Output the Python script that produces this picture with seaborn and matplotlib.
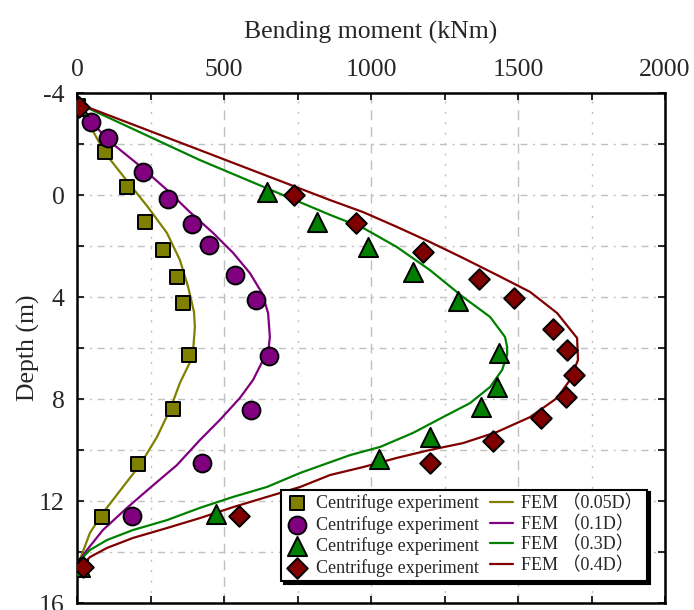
import numpy as np
import pandas as pd
import matplotlib
matplotlib.use("Agg")
import matplotlib.pyplot as plt
from matplotlib.ticker import MultipleLocator
import seaborn as sns

# ---------------- data ----------------
# Centrifuge experiment (markers): bending moment (kNm), depth (m)
exp_005_M = [5, 95, 170, 231, 293, 340, 361, 381, 326, 208, 84, 15]
exp_005_d = [-3.5, -1.69, -0.31, 1.06, 2.16, 3.2, 4.24, 6.27, 8.39, 10.55, 12.63, 14.6]

exp_01_M = [48, 105, 224, 310, 391, 449, 537, 609, 653, 592, 425, 187]
exp_01_d = [-2.86, -2.24, -0.9, 0.16, 1.14, 1.96, 3.14, 4.12, 6.31, 8.43, 10.5, 12.6]

exp_03_M = [5, 646, 816, 990, 1143, 1296, 1435, 1429, 1374, 1200, 1027, 473, 10]
exp_03_d = [-3.5, -0.1, 1.06, 2.04, 3.02, 4.16, 6.2, 7.53, 8.3, 9.5, 10.35, 12.5, 14.6]

exp_04_M = [8, 739, 949, 1177, 1367, 1486, 1619, 1667, 1690, 1663, 1578, 1415, 1200, 552, 20]
exp_04_d = [-3.45, 0.0, 1.1, 2.24, 3.3, 4.04, 5.26, 6.08, 7.06, 7.92, 8.75, 9.65, 10.5, 12.6, 14.6]

# FEM curves
fem_005_M = [5, 95, 173, 241, 306, 350, 378, 398, 401, 395, 388, 350, 316, 272, 214, 156, 88, 44, 10, 15]
fem_005_d = [-3.55, -1.65, -0.51, 0.47, 1.49, 2.55, 3.61, 4.59, 5.18, 6.08, 6.47, 7.37, 8.43, 9.49,
             10.59, 11.45, 12.47, 13.25, 14.3, 14.6]

fem_01_M = [5, 14, 105, 214, 306, 384, 463, 531, 588, 629, 650, 656, 650, 633, 599, 554, 486, 418,
            340, 248, 170, 88, 34, 10, 15]
fem_01_d = [-3.55, -3.33, -2.16, -1.14, -0.2, 0.67, 1.49, 2.27, 3.06, 3.84, 4.63, 5.57, 6.2, 6.47,
            7.25, 7.96, 8.82, 9.61, 10.59, 11.49, 12.27, 13.14, 13.92, 14.3, 14.6]

fem_03_M = [7, 418, 861, 973, 1088, 1200, 1313, 1405, 1456, 1463, 1463, 1446, 1405, 1337, 1245, 1143,
            1031, 929, 759, 646, 531, 418, 306, 190, 102, 44, 17, 10]
fem_03_d = [-3.57, -1.37, 0.78, 1.29, 2.04, 2.94, 4.0, 4.78, 5.57, 5.96, 6.27, 6.86, 7.53, 8.16, 8.71,
            9.33, 9.88, 10.2, 10.9, 11.45, 11.84, 12.27, 12.75, 13.14, 13.53, 13.92, 14.24, 14.6]

fem_04_M = [7, 418, 861, 973, 1088, 1200, 1313, 1429, 1541, 1633, 1701, 1704, 1677, 1633, 1541, 1429,
            1313, 1200, 1088, 973, 861, 759, 646, 531, 418, 306, 190, 102, 44, 10]
fem_04_d = [-3.57, -1.76, 0.2, 0.67, 1.25, 1.84, 2.47, 3.14, 3.8, 4.63, 5.61, 6.47, 7.25, 7.96, 8.71,
            9.29, 9.73, 10.0, 10.31, 10.67, 10.98, 11.45, 11.84, 12.24, 12.67, 13.06, 13.45, 13.84,
            14.2, 14.6]

exp_label = "Centrifuge experiment"
fem_labels = ["FEM \uff080.05D\uff09", "FEM \uff080.1D\uff09", "FEM \uff080.3D\uff09", "FEM \uff080.4D\uff09"]
x_label = "Bending moment (kNm)"
y_label = "Depth (m)"
x_ticks = [0, 500, 1000, 1500, 2000]
y_ticks = [-4, 0, 4, 8, 12, 16]

# ---------------- style ----------------
sns.set_style("white")
plt.rcParams["font.family"] = ["Liberation Serif", "Noto Sans CJK SC", "DejaVu Sans"]
plt.rcParams["axes.unicode_minus"] = False

colors = ["#808000", "#800080", "#008000", "#800000"]
markers = ["s", "o", "^", "D"]
sizes = [115, 165, 190, 110]

fig = plt.figure(figsize=(6.94, 6.10), dpi=100)
ax = fig.add_axes([77 / 694, 1 - 603 / 610, 588 / 694, 510 / 610])

fems = [(fem_005_M, fem_005_d), (fem_01_M, fem_01_d), (fem_03_M, fem_03_d), (fem_04_M, fem_04_d)]
exps = [(exp_005_M, exp_005_d), (exp_01_M, exp_01_d), (exp_03_M, exp_03_d), (exp_04_M, exp_04_d)]

for (M, d), c, lab in zip(fems, colors, fem_labels):
    df = pd.DataFrame({"M": M, "d": d})
    sns.lineplot(data=df, x="M", y="d", sort=False, estimator=None, color=c, lw=1.6,
                 label=lab, ax=ax, zorder=3)

for (M, d), c, mk, s in zip(exps, colors, markers, sizes):
    df = pd.DataFrame({"M": M, "d": d})
    sns.scatterplot(data=df, x="M", y="d", marker=mk, s=s, color=c, edgecolor="black",
                    linewidth=1.4, label=exp_label, ax=ax, zorder=4)

ax.set_xlim(0, 2000)
ax.set_ylim(16, -4)
ax.xaxis.tick_top()
ax.xaxis.set_label_position("top")
ax.set_xticks(x_ticks)
ax.set_yticks(y_ticks)
ax.xaxis.set_minor_locator(MultipleLocator(250))
ax.yaxis.set_minor_locator(MultipleLocator(2))

ax.set_xlabel(x_label, fontsize=18.5, labelpad=14)
ax.set_ylabel(y_label, fontsize=18.5, labelpad=-1)
ax.tick_params(axis="both", which="both", direction="in", top=True, bottom=True,
               left=True, right=True, width=1.4, length=5, labelsize=18.5, pad=9)
ax.tick_params(axis="x", which="both", labeltop=True, labelbottom=False)

for sp in ax.spines.values():
    sp.set_linewidth(1.8)
    sp.set_color("black")

ax.grid(False)
ax.grid(True, axis="x", which="major", color="#c0c0c0", lw=1.0, linestyle=(0, (7, 5)))
ax.grid(True, axis="x", which="minor", color="#c0c0c0", lw=1.0, linestyle=(0, (1.5, 6)))
ax.grid(True, axis="y", which="both", color="#c0c0c0", lw=1.0, linestyle=(0, (5, 4, 1.5, 4)))
ax.set_axisbelow(True)

handles, labels = ax.get_legend_handles_labels()
order = [4, 5, 6, 7, 0, 1, 2, 3]
leg = ax.legend([handles[i] for i in order], [labels[i] for i in order], ncol=2,
                loc="lower right", bbox_to_anchor=(0.969, 0.043), fontsize=13,
                frameon=True, fancybox=False, shadow={"color": "black", "alpha": 1},
                edgecolor="black", framealpha=1, borderpad=0.25, labelspacing=0.2,
                handlelength=1.3, handletextpad=0.4, columnspacing=0.6, borderaxespad=0)
leg.get_frame().set_linewidth(1.5)
leg.set_zorder(10)

fig.savefig("out.png", dpi=100)
